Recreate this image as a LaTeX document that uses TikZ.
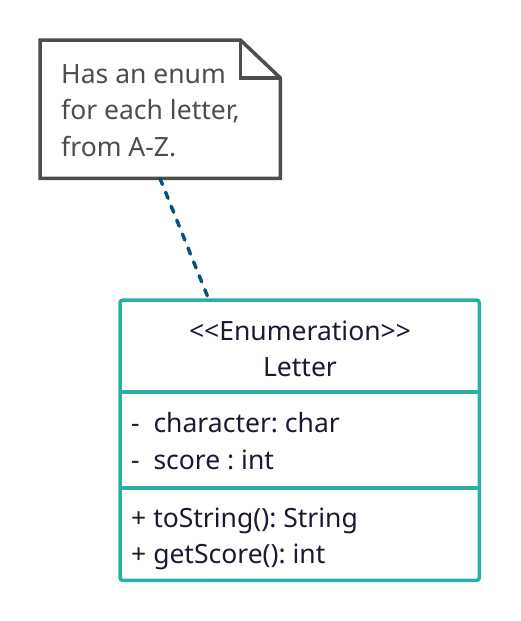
\documentclass[tikz,border=0pt]{standalone}
\usepackage{fontspec}
\setmainfont[Ligatures=NoCommon]{Noto Sans}
\frenchspacing
\usetikzlibrary{calc}
\definecolor{notegray}{HTML}{4D4D4D}
\definecolor{teal}{HTML}{27AFA9}
\definecolor{linkblue}{HTML}{0C4F7A}
\definecolor{navytext}{HTML}{1A1A33}
\tikzset{
  notetext/.style={anchor=base west, inner sep=0pt, text=notegray, font=\fontsize{26.5}{36}\selectfont},
  clstext/.style={inner sep=0pt, text=navytext, font=\fontsize{26.5}{36}\selectfont},
  noteline/.style={draw=notegray, line width=3.5pt, line join=miter},
  clsline/.style={draw=teal, line width=3.5pt},
  link/.style={draw=linkblue, line width=3.5pt, line cap=round, dash pattern=on 6.5pt off 8.5pt}
}
\begin{document}
\frenchspacing
\begin{tikzpicture}[x=1pt,y=-1pt]
\useasboundingbox (0,0) rectangle (520,621);
% note
\node[minimum width=240pt, minimum height=138pt, inner sep=0pt, anchor=north west] (note) at (40,40) {};
\draw[noteline] (note.north west) -- ([xshift=-40pt]note.north east) -- ([yshift=-38pt]note.north east) -- (note.south east) -- (note.south west) -- cycle;
\draw[noteline] ([xshift=-40pt]note.north east) -- ([xshift=-40pt,yshift=-38pt]note.north east) -- ([yshift=-38pt]note.north east);
\node[notetext] (n1) at (61,83.5) {Has an enum};
\node[notetext] (n2) at (61,119.5) {for each letter,};
\node[notetext] (n3) at (61,156) {from A-Z.};
% class
\node[minimum width=359pt, minimum height=280pt, inner sep=0pt, anchor=north west] (cls) at (120,300) {};
\draw[clsline, rounded corners=3pt] (cls.north west) rectangle (cls.south east);
\coordinate (d1l) at (120,392); \coordinate (d1r) at (479,392);
\coordinate (d2l) at (120,488); \coordinate (d2r) at (479,488);
\draw[clsline] (d1l) -- (d1r);
\draw[clsline] (d2l) -- (d2r);
\node[clstext, anchor=base] (t1) at (300,340) {<{}<Enumeration>{}>};
\node[clstext, anchor=base] (t2) at (300,376) {Letter};
\node[clstext, anchor=base west] (a1) at (131,432.5) {-\ \ character: char};
\node[clstext, anchor=base west] (a2) at (131,469.5) {-\ \ score : int};
\node[clstext, anchor=base west] (m1) at (131,527) {+ toString(): String};
\node[clstext, anchor=base west] (m2) at (131,563.5) {+ getScore(): int};
% link
\draw[link] ([xshift=120pt]note.south west) -- ([xshift=89pt]cls.north west);
\end{tikzpicture}
\end{document}
